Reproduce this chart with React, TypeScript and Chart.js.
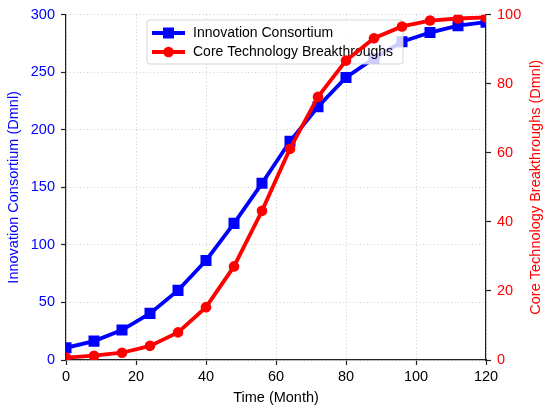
import React, { useEffect, useRef } from "react";
import { Chart, registerables } from "chart.js";

Chart.register(...registerables);

const months = [0, 8, 16, 24, 32, 40, 48, 56, 64, 72, 80, 88, 96, 104, 112, 120];
const consortium = [10.6, 16.4, 26, 40.5, 60.5, 86.5, 118.7, 153.5, 190, 220, 245.5, 262, 276.5, 284.5, 290.5, 293.5];
const breakthroughs = [0.7, 1.25, 2.1, 4.1, 8.0, 15.3, 27.1, 43.2, 61.2, 76.2, 86.7, 93.2, 96.6, 98.3, 98.9, 99.2];
const xTicks = [0, 20, 40, 60, 80, 100, 120];
const leftTicks = [0, 50, 100, 150, 200, 250, 300];
const rightTicks = [0, 20, 40, 60, 80, 100];

const BLUE = "#0000ff";
const RED = "#ff0000";
const FONT = "'Liberation Sans', Arial, sans-serif";

const legendPlugin = {
  id: "customLegend",
  afterDatasetDraw(chart: any, args: any) {
    if (args.index !== 0) return;
    const ctx = chart.ctx;
    const x0 = 147, y0 = 20, w = 256, h = 44, r = 3;
    ctx.save();
    ctx.beginPath();
    ctx.moveTo(x0 + r, y0);
    ctx.lineTo(x0 + w - r, y0);
    ctx.arcTo(x0 + w, y0, x0 + w, y0 + r, r);
    ctx.lineTo(x0 + w, y0 + h - r);
    ctx.arcTo(x0 + w, y0 + h, x0 + w - r, y0 + h, r);
    ctx.lineTo(x0 + r, y0 + h);
    ctx.arcTo(x0, y0 + h, x0, y0 + h - r, r);
    ctx.lineTo(x0, y0 + r);
    ctx.arcTo(x0, y0, x0 + r, y0, r);
    ctx.closePath();
    ctx.fillStyle = "rgba(255,255,255,0.8)";
    ctx.fill();
    ctx.strokeStyle = "rgba(204,204,204,0.8)";
    ctx.lineWidth = 1;
    ctx.stroke();

    const rows = [
      { y: 33, color: BLUE, label: chart.data.datasets[0].label, style: "rect" },
      { y: 52, color: RED, label: chart.data.datasets[1].label, style: "circle" },
    ];
    rows.forEach((row) => {
      ctx.strokeStyle = row.color;
      ctx.fillStyle = row.color;
      ctx.lineWidth = 3.8;
      ctx.beginPath();
      ctx.moveTo(152, row.y);
      ctx.lineTo(185, row.y);
      ctx.stroke();
      ctx.beginPath();
      if (row.style === "rect") {
        ctx.rect(168.5 - 5.5, row.y - 5.5, 11, 11);
      } else {
        ctx.arc(168.5, row.y, 5.3, 0, Math.PI * 2);
      }
      ctx.fill();
      ctx.fillStyle = "#000";
      ctx.font = `14px ${FONT}`;
      ctx.textAlign = "left";
      ctx.textBaseline = "middle";
      ctx.fillText(row.label, 193, row.y + 0.5);
    });
    ctx.restore();
  },
  afterDraw(chart: any) {
    const ctx = chart.ctx;
    const area = chart.chartArea;
    ctx.save();
    ctx.translate(536, (area.top + area.bottom) / 2);
    ctx.rotate(-Math.PI / 2);
    ctx.fillStyle = RED;
    ctx.font = `14.5px ${FONT}`;
    ctx.textAlign = "center";
    ctx.textBaseline = "middle";
    ctx.fillText("Core Technology Breakthroughs (Dmnl)", 0, 0);
    ctx.restore();
  },
};

export default function App() {
  const ref = useRef<HTMLCanvasElement | null>(null);

  useEffect(() => {
    if (!ref.current) return;
    const tickFont = { family: FONT, size: 14.5 };
    const chart = new Chart(ref.current, {
      type: "line",
      data: {
        datasets: [
          {
            label: "Innovation Consortium",
            data: months.map((m, i) => ({ x: m, y: consortium[i] })),
            yAxisID: "y",
            borderColor: BLUE,
            backgroundColor: BLUE,
            borderWidth: 3.8,
            pointStyle: "rect",
            pointRadius: 7.8,
            pointBorderWidth: 0,
            tension: 0,
            order: 1,
            clip: 0,
          },
          {
            label: "Core Technology Breakthroughs",
            data: months.map((m, i) => ({ x: m, y: breakthroughs[i] })),
            yAxisID: "y1",
            borderColor: RED,
            backgroundColor: RED,
            borderWidth: 3.8,
            pointStyle: "circle",
            pointRadius: 5.3,
            pointBorderWidth: 0,
            tension: 0,
            order: 0,
            clip: 0,
          },
        ],
      } as any,
      options: {
        animation: false,
        responsive: false,
        layout: { padding: { top: 13, left: 0, right: 0, bottom: 0 } },
        plugins: { legend: { display: false }, tooltip: { enabled: false } },
        scales: {
          x: {
            type: "linear",
            min: 0,
            max: 120,
            afterFit: (s: any) => { s.height = 53; },
            afterBuildTicks: (s: any) => { s.ticks = xTicks.map((v) => ({ value: v })); },
            ticks: { font: tickFont, color: "#000", padding: 3 },
            grid: { color: "#cccccc", lineWidth: 1, tickColor: "#222", tickLength: 5, tickWidth: 1.2 },
            border: { color: "#222", width: 1.2, dash: [1, 2.5] },
            title: { display: true, text: "Time (Month)", font: { family: FONT, size: 14.5 }, color: "#000", padding: { top: 0, bottom: 6 } },
          },
          y: {
            type: "linear",
            position: "left",
            min: 0,
            max: 300,
            afterFit: (s: any) => { s.width = 66; },
            afterBuildTicks: (s: any) => { s.ticks = leftTicks.map((v) => ({ value: v })); },
            ticks: { font: tickFont, color: BLUE, padding: 6 },
            grid: { color: "#cccccc", lineWidth: 1, tickColor: "#222", tickLength: 5, tickWidth: 1.2 },
            border: { color: "#222", width: 1.2, dash: [1, 2.5] },
            title: { display: true, text: "Innovation Consortium (Dmnl)", font: { family: FONT, size: 14.5 }, color: BLUE, padding: { top: 5, bottom: 0 } },
          },
          y1: {
            type: "linear",
            position: "right",
            min: 0,
            max: 100,
            afterFit: (s: any) => { s.width = 64; },
            afterBuildTicks: (s: any) => { s.ticks = rightTicks.map((v) => ({ value: v })); },
            ticks: { font: tickFont, color: RED, padding: 6 },
            grid: { drawOnChartArea: false, tickColor: "#222", tickLength: 5, tickWidth: 1.2 },
            border: { color: "#222", width: 1.2 },
          },
        },
      } as any,
      plugins: [legendPlugin],
    });
    return () => chart.destroy();
  }, []);

  return (
    <div style={{ position: "absolute", left: 0, top: 0, width: 550, height: 413, background: "#fff" }}>
      <canvas ref={ref} width={550} height={413} />
    </div>
  );
}
